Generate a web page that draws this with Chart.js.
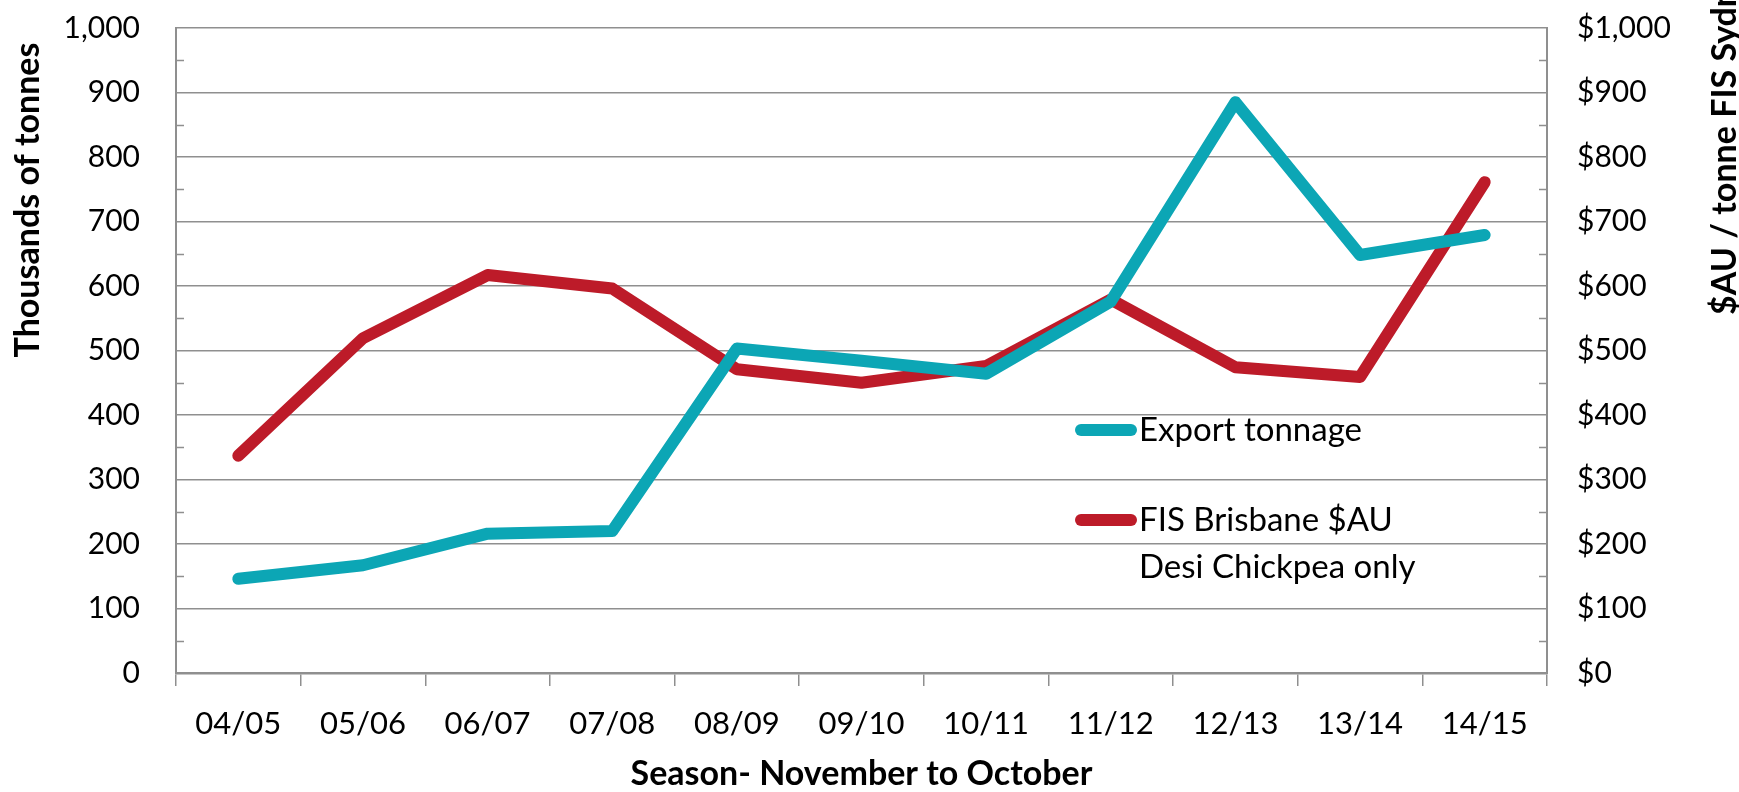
<!DOCTYPE html>
<html>
<head>
<meta charset="utf-8">
<script src="https://cdn.jsdelivr.net/npm/chart.js@4"></script>
<style>
  html, body { margin: 0; padding: 0; background: #fff; }
  #wrap { width: 1739px; height: 792px; }
</style>
</head>
<body>
<div id="wrap"><canvas id="chart" width="1739" height="792"></canvas></div>
<script>
// Seasons on the x axis
const seasons = ['04/05', '05/06', '06/07', '07/08', '08/09', '09/10', '10/11', '11/12', '12/13', '13/14', '14/15'];

// Export tonnage, thousands of tonnes (left axis)
const exportTonnage = [146, 167, 216, 220, 503, 484, 464, 576, 885, 648, 679];

// FIS Brisbane price, $AU / tonne (right axis)
const fisPrice = [337, 519, 617, 596, 471, 450, 476, 579, 474, 459, 761];

// Legend text (second entry wraps onto two lines)
const legendLines = [['Export tonnage'], ['FIS Brisbane $AU', 'Desi Chickpea only']];

const leftTitle  = 'Thousands of tonnes';
const rightTitle = '$AU / tonne FIS Sydney';
const xTitle     = 'Season- November to October';

const TEAL = '#0ca6b5';
const RED  = '#bd1b29';
const GRID = '#8f8f8f';
const FONT = 'Lato, "Open Sans", sans-serif';

// Small inward tick marks at the 50s on both value axes
const minorTicks = {
  id: 'minorTicks',
  beforeDatasetsDraw(chart) {
    const { ctx, chartArea } = chart;
    const y = chart.scales.y;
    ctx.save();
    ctx.strokeStyle = GRID;
    ctx.lineWidth = 1.5;
    for (let v = 50; v < 1000; v += 100) {
      const py = Math.round(y.getPixelForValue(v)) + 0.5;
      ctx.beginPath();
      ctx.moveTo(chartArea.left, py);
      ctx.lineTo(chartArea.left + 8, py);
      ctx.moveTo(chartArea.right - 8, py);
      ctx.lineTo(chartArea.right, py);
      ctx.stroke();
    }
    ctx.restore();
  }
};

// Axis titles, placed where the original puts them
const axisTitles = {
  id: 'axisTitles',
  afterDraw(chart) {
    const { ctx, chartArea } = chart;
    ctx.save();
    ctx.fillStyle = '#000';
    ctx.font = 'bold 34px ' + FONT;
    ctx.textBaseline = 'middle';

    // left title, sits in the upper half
    ctx.save();
    ctx.translate(28, 200);
    ctx.rotate(-Math.PI / 2);
    ctx.textAlign = 'center';
    ctx.fillText(leftTitle, 0, 0);
    ctx.restore();

    // right title, runs off the top edge
    ctx.save();
    ctx.translate(1725, 315);
    ctx.rotate(-Math.PI / 2);
    ctx.textAlign = 'left';
    ctx.fillText(rightTitle, 0, 0);
    ctx.restore();

    ctx.textAlign = 'center';
    ctx.fillText(xTitle, (chartArea.left + chartArea.right) / 2, 774);
    ctx.restore();
  }
};

// Legend inside the plot area
const insideLegend = {
  id: 'insideLegend',
  afterDraw(chart) {
    const { ctx } = chart;
    const rows = [430, 520];
    ctx.save();
    ctx.font = '33px ' + FONT;
    ctx.textBaseline = 'middle';
    ctx.textAlign = 'left';
    chart.data.datasets.forEach((ds, i) => {
      const y = rows[i];
      ctx.strokeStyle = ds.borderColor;
      ctx.lineWidth = 12;
      ctx.lineCap = 'round';
      ctx.beginPath();
      ctx.moveTo(1081, y);
      ctx.lineTo(1131, y);
      ctx.stroke();
      ctx.fillStyle = '#000';
      legendLines[i].forEach((t, j) => ctx.fillText(t, 1139, y + j * 47));
    });
    ctx.restore();
  }
};

const noPad = s => { s.paddingTop = 0; s.paddingBottom = 0; };

new Chart(document.getElementById('chart'), {
  type: 'line',
  data: {
    labels: seasons,
    datasets: [
      {
        label: legendLines[0].join(' '),
        data: exportTonnage,
        yAxisID: 'y',
        borderColor: TEAL,
        borderWidth: 12,
        borderCapStyle: 'round',
        borderJoinStyle: 'round',
        pointRadius: 0,
        tension: 0,
      },
      {
        label: legendLines[1].join(' '),
        data: fisPrice,
        yAxisID: 'y1',
        borderColor: RED,
        borderWidth: 12,
        borderCapStyle: 'round',
        borderJoinStyle: 'round',
        pointRadius: 0,
        tension: 0,
      },
    ],
  },
  options: {
    responsive: false,
    animation: false,
    layout: { padding: { top: 28, left: 0, right: 0, bottom: 0 } },
    plugins: {
      legend: { display: false },
      tooltip: { enabled: false },
    },
    scales: {
      x: {
        offset: true,
        grid: { offset: true, drawOnChartArea: false, color: GRID, lineWidth: 1.5, tickLength: 13 },
        border: { color: GRID, width: 2.5 },
        ticks: { color: '#000', font: { family: FONT, size: 31 }, padding: 19, maxRotation: 0 },
        afterFit: s => { s.height = 792 - 673; s.paddingLeft = 0; s.paddingRight = 0; },
      },
      y: {
        position: 'left',
        min: 0, max: 1000,
        ticks: {
          stepSize: 100, color: '#000', padding: 36,
          font: { family: FONT, size: 30 },
          callback: v => v.toLocaleString('en-US'),
        },
        grid: { color: GRID, lineWidth: 1.5, drawTicks: false },
        border: { color: GRID, width: 2 },
        afterFit: s => { s.width = 176; noPad(s); },
      },
      y1: {
        position: 'right',
        min: 0, max: 1000,
        ticks: {
          stepSize: 100, color: '#000', padding: 30,
          font: { family: FONT, size: 30 },
          callback: v => '$' + v.toLocaleString('en-US'),
        },
        grid: { drawOnChartArea: false, drawTicks: false },
        border: { color: GRID, width: 2 },
        afterFit: s => { s.width = 1739 - 1547; noPad(s); },
      },
    },
  },
  plugins: [minorTicks, axisTitles, insideLegend],
});
</script>
</body>
</html>
